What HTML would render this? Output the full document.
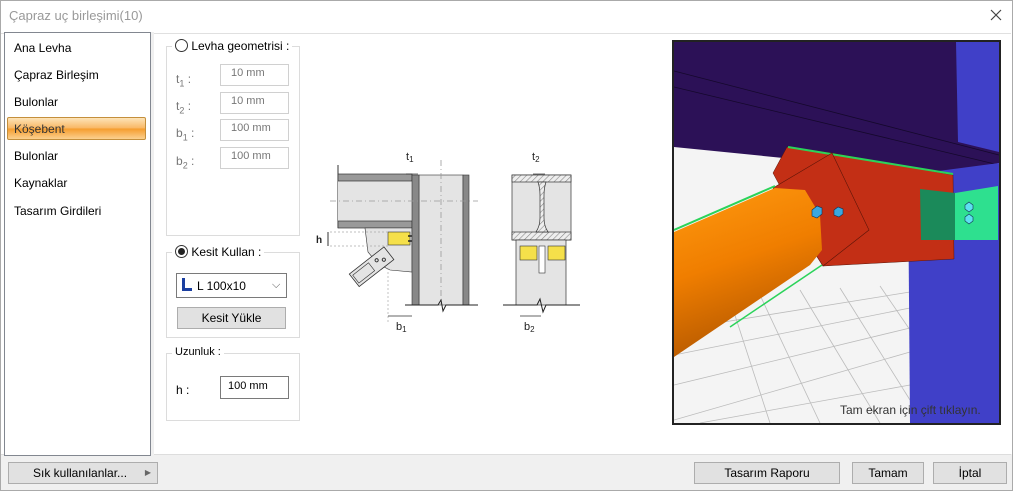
<!DOCTYPE html>
<html><head><meta charset="utf-8"><style>
*{box-sizing:border-box;margin:0;padding:0}
body{width:1013px;height:491px;background:#fff;font-family:"Liberation Sans","DejaVu Sans",sans-serif;font-size:12px;color:#000;position:relative;overflow:hidden}
.a{position:absolute}
.li{position:absolute;left:14px;font-size:12px}
.grp{position:absolute;border:1px solid #dcdcdc}
.lbl{position:absolute;background:#fff;padding:0 3px;font-size:12px}
.inp{position:absolute;border:1px solid #d0d0d0;background:#fff;color:#777;font-size:11px;padding:2px 0 0 10px;height:22px}
.btn{position:absolute;border:1px solid #adadad;background:#e1e1e1;text-align:center;font-size:12px;line-height:20px;height:22px}
.gl{position:absolute;color:#777;font-size:12px}
</style></head><body>
<div class="a" style="left:0;top:0;width:1013px;height:491px;border:1px solid #aaa"></div>
<div class="a" style="left:9px;top:8px;color:#999;font-size:13px">Çapraz uç birleşimi(10)</div>
<svg class="a" style="left:990px;top:9px" width="12" height="12"><path d="M1,1L11,11M11,1L1,11" stroke="#444" stroke-width="1.2"/></svg>
<div class="a" style="left:1px;top:454px;width:1011px;height:36px;background:#f0f0f0"></div>
<div class="a" style="left:1px;top:33px;width:1010px;height:422px;border-top:1px solid #e0e0e0;border-bottom:1px solid #ddd"></div>
<div class="a" style="left:4px;top:32px;width:147px;height:424px;border:1px solid #828790;background:#fff"></div>
<div class="a" style="left:151px;top:32px;width:3px;height:424px;background:#f0f0f0"></div>
<div class="li" style="top:41px">Ana Levha</div>
<div class="li" style="top:68px">Çapraz Birleşim</div>
<div class="li" style="top:95px">Bulonlar</div>
<div class="a" style="left:7px;top:117px;width:139px;height:23px;border:1px solid #c48f3c;border-radius:2px;background:linear-gradient(#fde4b8,#f9b662 50%,#f59c2c 51%,#fbd08f)"></div>
<div class="li" style="top:122px;color:#333">Köşebent</div>
<div class="li" style="top:149px">Bulonlar</div>
<div class="li" style="top:176px">Kaynaklar</div>
<div class="li" style="top:204px">Tasarım Girdileri</div>

<div class="grp" style="left:166px;top:46px;width:134px;height:190px"></div>
<div class="lbl" style="left:172px;top:39px"><span style="display:inline-block;width:13px;height:13px;border:1px solid #333;border-radius:50%;vertical-align:-2px"></span> Levha geometrisi :</div>
<div class="gl" style="left:176px;top:72px">t<sub style="font-size:9px">1</sub> :</div>
<div class="gl" style="left:176px;top:99px">t<sub style="font-size:9px">2</sub> :</div>
<div class="gl" style="left:176px;top:126px">b<sub style="font-size:9px">1</sub> :</div>
<div class="gl" style="left:176px;top:154px">b<sub style="font-size:9px">2</sub> :</div>
<div class="inp" style="left:220px;top:64px;width:69px">10 mm</div>
<div class="inp" style="left:220px;top:92px;width:69px">10 mm</div>
<div class="inp" style="left:220px;top:119px;width:69px">100 mm</div>
<div class="inp" style="left:220px;top:147px;width:69px">100 mm</div>

<div class="grp" style="left:166px;top:252px;width:134px;height:86px"></div>
<div class="lbl" style="left:172px;top:245px"><span style="display:inline-block;width:13px;height:13px;border:1px solid #333;border-radius:50%;vertical-align:-2px;position:relative"><span style="position:absolute;left:2px;top:2px;width:7px;height:7px;border-radius:50%;background:#222"></span></span> Kesit Kullan :</div>
<div class="a" style="left:176px;top:273px;width:111px;height:25px;border:1px solid #7a7a7a;background:#fff"></div>
<div class="a" style="left:182px;top:278px;width:10px;height:13px;border-left:3px solid #1b3fa0;border-bottom:3px solid #1b3fa0"></div>
<div class="a" style="left:197px;top:279px">L 100x10</div>
<div class="a" style="left:272px;top:279px;color:#555;font-size:11px">⌵</div>
<div class="btn" style="left:177px;top:307px;width:109px">Kesit Yükle</div>

<div class="grp" style="left:166px;top:353px;width:134px;height:68px"></div>
<div class="lbl" style="left:172px;top:346px;font-size:11px">Uzunluk :</div>
<div class="a" style="left:176px;top:383px;font-size:12px">h :</div>
<div class="a" style="left:220px;top:376px;width:69px;height:23px;border:1px solid #7a7a7a;font-size:11px;padding:3px 0 0 7px">100 mm</div>

<svg class="a" style="left:0;top:0" width="1013" height="491" viewBox="0 0 1013 491">
<defs>
<pattern id="h" width="4" height="4" patternUnits="userSpaceOnUse" patternTransform="rotate(45)"><rect width="4" height="4" fill="#eee"/><line x1="0" y1="0" x2="0" y2="4" stroke="#888" stroke-width="1.2"/></pattern>
<linearGradient id="og" x1="0" y1="0" x2="0.3" y2="1"><stop offset="0" stop-color="#ff9a10"/><stop offset="0.5" stop-color="#f07e00"/><stop offset="1" stop-color="#b45800"/></linearGradient>
<clipPath id="vp"><rect x="674" y="42" width="325" height="381"/></clipPath>
</defs>
<line x1="338" y1="165" x2="338" y2="228" stroke="#333"/>
<rect x="338" y="174" width="74" height="54" fill="#e4e4e4"/>
<rect x="338" y="174" width="74" height="7" fill="#999" stroke="#333" stroke-width="0.7"/>
<rect x="338" y="221" width="74" height="7" fill="#999" stroke="#333" stroke-width="0.7"/>
<polygon points="365,228 412,228 412,272 390,270 378,264 368,252" fill="#e4e4e4" stroke="#333" stroke-width="0.6"/>
<rect x="388" y="232" width="22" height="13" fill="#f5e04a" stroke="#333" stroke-width="0.6"/>
<line x1="408" y1="236" x2="420" y2="236" stroke="#222" stroke-width="1.5"/><line x1="408" y1="241" x2="420" y2="241" stroke="#222" stroke-width="1.5"/>
<g transform="rotate(-38 370 268)"><rect x="350" y="260" width="44" height="16" fill="#e4e4e4" stroke="#333" stroke-width="0.8"/><rect x="352" y="263" width="20" height="10" fill="none" stroke="#333" stroke-width="0.6"/><circle cx="380" cy="266" r="1.6" fill="none" stroke="#333"/><circle cx="386" cy="270" r="1.6" fill="none" stroke="#333"/></g>
<rect x="419" y="175" width="44" height="130" fill="#e4e4e4" stroke="#333" stroke-width="0.6"/>
<rect x="412" y="175" width="7" height="130" fill="#888" stroke="#333" stroke-width="0.6"/>
<rect x="463" y="175" width="6" height="130" fill="#888" stroke="#333" stroke-width="0.6"/>
<line x1="330" y1="201" x2="478" y2="201" stroke="#999" stroke-dasharray="6,3,1,3" stroke-width="0.8"/>
<line x1="441" y1="160" x2="441" y2="305" stroke="#999" stroke-dasharray="6,3,1,3" stroke-width="0.8"/>
<polyline points="405,305 438,305 441,300 443,311 446,305 478,305" fill="none" stroke="#222"/>
<line x1="330" y1="232" x2="388" y2="232" stroke="#aaa" stroke-dasharray="2,2" stroke-width="0.7"/>
<line x1="330" y1="246" x2="388" y2="246" stroke="#aaa" stroke-dasharray="2,2" stroke-width="0.7"/>
<line x1="328" y1="232" x2="328" y2="246" stroke="#333"/>
<text x="316" y="243" font-size="10" font-weight="bold" fill="#222">h</text>
<line x1="388" y1="268" x2="388" y2="322" stroke="#aaa" stroke-dasharray="2,2" stroke-width="0.7"/>
<line x1="388" y1="316" x2="412" y2="316" stroke="#333" stroke-width="0.7"/>
<text x="396" y="330" font-size="11" fill="#222">b<tspan font-size="8" dy="2">1</tspan></text>
<line x1="406" y1="174" x2="418" y2="174" stroke="#333" stroke-width="0.7"/>
<text x="406" y="160" font-size="11" fill="#222">t<tspan font-size="8" dy="2">1</tspan></text>
<rect x="512" y="175" width="59" height="65" fill="#e4e4e4" stroke="#333" stroke-width="0.7"/>
<rect x="512" y="175" width="59" height="7" fill="url(#h)" stroke="#333" stroke-width="0.7"/>
<rect x="512" y="232" width="59" height="8" fill="url(#h)" stroke="#333" stroke-width="0.7"/>
<path d="M538,182 Q540,188 540,195 L540,218 Q540,226 536,232 L548,232 Q544,226 544,218 L544,195 Q544,188 546,182Z" fill="url(#h)" stroke="#333" stroke-width="0.7"/>
<rect x="516" y="240" width="50" height="65" fill="#e4e4e4" stroke="#333" stroke-width="0.7"/>
<rect x="520" y="246" width="17" height="14" fill="#f5e04a" stroke="#333" stroke-width="0.6"/>
<rect x="548" y="246" width="17" height="14" fill="#f5e04a" stroke="#333" stroke-width="0.6"/>
<rect x="539" y="246" width="6" height="27" fill="#fff" stroke="#333" stroke-width="0.6"/>
<polyline points="503,305 537,305 540,299 543,312 546,305 580,305" fill="none" stroke="#222"/>
<line x1="520" y1="316" x2="541" y2="316" stroke="#333" stroke-width="0.7"/>
<text x="524" y="330" font-size="11" fill="#222">b<tspan font-size="8" dy="2">2</tspan></text>
<line x1="533" y1="174" x2="545" y2="174" stroke="#333" stroke-width="0.7"/>
<text x="532" y="160" font-size="11" fill="#222">t<tspan font-size="8" dy="2">2</tspan></text>
<rect x="673" y="41" width="327" height="383" fill="#f4f4f4" stroke="#222" stroke-width="2"/>
<g clip-path="url(#vp)">
<g stroke="#bbb" stroke-width="0.8">
<line x1="674" y1="330" x2="910" y2="292"/><line x1="674" y1="355" x2="910" y2="308"/><line x1="674" y1="385" x2="910" y2="328"/><line x1="674" y1="420" x2="910" y2="352"/><line x1="700" y1="423" x2="910" y2="385"/>
<line x1="730" y1="300" x2="770" y2="423"/><line x1="760" y1="295" x2="820" y2="423"/><line x1="800" y1="290" x2="880" y2="423"/><line x1="840" y1="288" x2="910" y2="400"/><line x1="880" y1="286" x2="910" y2="330"/>
</g>
<polygon points="674,42 999,42 999,163 953,175 674,147" fill="#2c1157"/>
<line x1="674" y1="71" x2="999" y2="155" stroke="#15082c" stroke-width="0.8"/>
<line x1="674" y1="87" x2="999" y2="165" stroke="#15082c" stroke-width="0.8"/>
<polygon points="956,42 999,42 999,152 958,142" fill="#4040c8"/>
<polygon points="908,175 999,163 999,423 910,423" fill="#4040c8"/>
<polygon points="787,147 832,153 953,175 954,259 823,266 773,173" fill="#c32f15" stroke="#5a1408" stroke-width="0.5"/>
<line x1="788" y1="147" x2="953" y2="174" stroke="#2bd35a" stroke-width="2"/>
<polygon points="773,188 832,153 869,230 823,266" fill="#c32f15" stroke="#5a1408" stroke-width="0.6"/>
<polygon points="674,232 775,188 805,190 820,215 822,250 810,265 674,357" fill="url(#og)"/>
<line x1="674" y1="230" x2="775" y2="186" stroke="#2bd35a" stroke-width="2"/>
<line x1="730" y1="327" x2="822" y2="265" stroke="#2bd35a" stroke-width="1.5"/>
<polygon points="834,210 838,207 843,209 843,214 839,217 834,215" fill="#3aa8e0" stroke="#135" stroke-width="0.6"/>
<polygon points="812,210 817,206 822,208 822,214 817,218 812,216" fill="#3aa8e0" stroke="#135" stroke-width="0.6"/>
<polygon points="920,189 955,193 955,240 921,240" fill="#1b8a5a"/>
<polygon points="955,193 998,186 998,240 955,240" fill="#2ee08f"/>
<polygon points="965,205 969,202 973,205 973,209 969,212 965,209" fill="#5ee0f0" stroke="#135" stroke-width="0.6"/>
<polygon points="965,217 969,214 973,217 973,221 969,224 965,221" fill="#5ee0f0" stroke="#135" stroke-width="0.6"/>
</g>
<text x="840" y="414" font-size="12" fill="#333">Tam ekran için çift tıklayın.</text>
</svg>

<div class="btn" style="left:8px;top:462px;width:150px;font-size:12px;text-align:left;padding-left:24px">Sık kullanılanlar...<span style="position:absolute;right:6px;top:0;font-size:8px;color:#666">▶</span></div>
<div class="btn" style="left:694px;top:462px;width:146px">Tasarım Raporu</div>
<div class="btn" style="left:852px;top:462px;width:72px">Tamam</div>
<div class="btn" style="left:933px;top:462px;width:74px">İptal</div>
</body></html>
